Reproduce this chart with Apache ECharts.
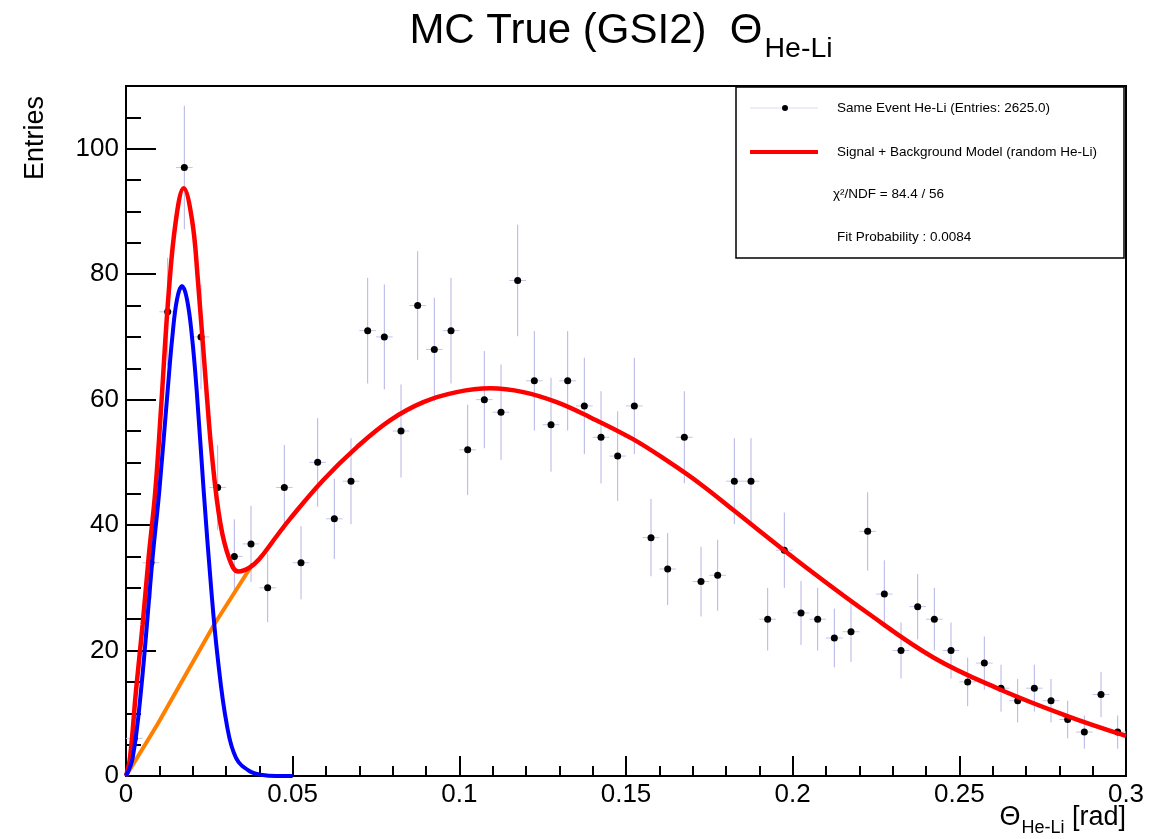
<!DOCTYPE html>
<html><head><meta charset="utf-8">
<script src="https://cdn.jsdelivr.net/npm/echarts@6/dist/echarts.min.js"></script>
<style>html,body{margin:0;padding:0;background:#fff}#c{width:1166px;height:839px}</style>
</head><body><div id="c"></div>
<script>
// ---- data ----
const binWidth = 0.005;           // histogram bin width [rad]
const counts = [
  6, 34, 74, 97, 70, 46, 35, 37, 30, 46,
  34, 50, 41, 47, 71, 70, 55, 75, 68, 71,
  52, 60, 58, 79, 63, 56, 63, 59, 54, 51,
  59, 38, 33, 54, 31, 32, 47, 47, 25, 36,
  26, 25, 22, 23, 39, 29, 20, 27, 25, 20,
  15, 18, 14, 12, 14, 12, 9, 7, 13, 7
];
// Signal + background model (red)
const redCurve = [
  [0,0],[0.0012,2.9],[0.003,13.6],[0.005,24.2],[0.0068,34.9],[0.0088,45.5],[0.0105,58.5],
  [0.0128,77],[0.015,88.7],[0.0173,93.7],[0.0198,88.7],[0.0215,79.5],[0.0242,61],
  [0.0258,51],[0.0283,40.3],[0.031,34.6],[0.0337,32.6],[0.037,33.2],[0.040,34.6],
  [0.045,38.1],[0.0492,41.0],[0.0592,47.2],[0.0692,52.4],[0.0792,56.7],[0.0892,59.6],
  [0.0992,61.2],[0.1092,61.8],[0.1192,61.2],[0.1292,59.6],[0.1392,57.2],
  [0.1521,53.7],[0.1622,50.3],[0.1722,46.6],[0.1822,42.4],[0.2022,34.0],
  [0.2222,26.1],[0.2422,18.9],[0.2622,13.8],[0.2822,9.6],[0.3,6.4]
];
// Signal component (blue)
const blueCurve = [
  [0,0],[0.002,2.9],[0.0045,13.6],[0.008,34.9],[0.01,45.5],[0.0125,61.5],[0.0139,70],
  [0.0153,76],[0.0168,78.1],[0.0183,76],[0.0198,70],[0.0212,61.5],[0.0233,45.5],
  [0.0256,29.6],[0.0275,18.9],[0.0302,8.3],[0.033,2.9],[0.037,0.8],[0.041,0.15],
  [0.045,0],[0.05,0]
];
// Background component (orange), visible part
const orangeCurve = [[0,0],[0.0095,8.3],[0.0265,24.2],[0.038,33.8]];

const legendTexts = [
  'Same Event He-Li (Entries: 2625.0)',
  'Signal + Background Model (random He-Li)',
  'χ²/NDF = 84.4 / 56',
  'Fit Probability : 0.0084'
];

const FONT = 'Liberation Sans';
const xMax = 0.3, yMax = 110;

const chart = echarts.init(document.getElementById('c'), null, {renderer: 'canvas'});

const points = counts.map((c, i) => [binWidth * (i + 0.5), c]);
const errData = counts.map((c, i) => [binWidth * (i + 0.5), c, Math.sqrt(c)]);

const axisLineStyle = {color: '#000', width: 2};

chart.setOption({
  animation: false,
  backgroundColor: '#fff',
  grid: {left: 126, right: 40, top: 86, bottom: 63, show: true,
         borderColor: '#000', borderWidth: 2, backgroundColor: 'transparent'},
  xAxis: [{
    type: 'value', min: 0, max: xMax, interval: 0.05,
    axisLine: {show: true, lineStyle: axisLineStyle},
    axisTick: {show: true, inside: true, length: 20, lineStyle: axisLineStyle},
    minorTick: {show: true, splitNumber: 5, length: 10, lineStyle: axisLineStyle},
    splitLine: {show: false},
    axisLabel: {color: '#000', fontSize: 26, fontFamily: FONT, margin: 6,
      showMinLabel: true, showMaxLabel: true,
      formatter: v => String(+v.toFixed(3))}
  }],
  yAxis: [{
    type: 'value', min: 0, max: yMax, interval: 20, position: 'left',
    axisLine: {show: true, lineStyle: axisLineStyle},
    axisTick: {show: true, inside: true, length: 30, lineStyle: axisLineStyle},
    splitLine: {show: false},
    axisLabel: {color: '#000', fontSize: 26, fontFamily: FONT, margin: 7,
      formatter: v => (v > 100 ? '' : String(v))}
  }, {
    type: 'value', min: 0, max: yMax, interval: 5, position: 'left', offset: 0,
    axisLine: {show: false},
    axisTick: {show: true, inside: true, length: 15, lineStyle: axisLineStyle},
    splitLine: {show: false},
    axisLabel: {show: false}
  }],
  series: [{
    type: 'custom', name: 'errors', xAxisIndex: 0, yAxisIndex: 0, z: 1, clip: true,
    data: errData,
    renderItem: (params, api) => {
      const x = api.value(0), y = api.value(1), e = api.value(2);
      const pL = api.coord([x - binWidth / 2, y]);
      const pR = api.coord([x + binWidth / 2, y]);
      const pT = api.coord([x, Math.min(y + e, yMax)]);
      const pB = api.coord([x, Math.max(y - e, 0)]);
      return {type: 'group', children: [
        {type: 'line', shape: {x1: pL[0], y1: pL[1], x2: pR[0], y2: pR[1]},
         style: {stroke: '#c4c4ee', lineWidth: 1}},
        {type: 'line', shape: {x1: pT[0], y1: pT[1], x2: pB[0], y2: pB[1]},
         style: {stroke: '#b4b4e6', lineWidth: 1}}
      ]};
    }
  }, {
    type: 'scatter', name: 'data', xAxisIndex: 0, yAxisIndex: 0, z: 2,
    data: points, symbol: 'circle', symbolSize: 7,
    itemStyle: {color: '#000', opacity: 1}
  }, {
    type: 'line', name: 'bkg', xAxisIndex: 0, yAxisIndex: 0, z: 3,
    data: orangeCurve, showSymbol: false, smooth: false,
    lineStyle: {color: '#ff8000', width: 4}
  }, {
    type: 'line', name: 'model', xAxisIndex: 0, yAxisIndex: 0, z: 4,
    data: redCurve, showSymbol: false, smooth: 0.4,
    lineStyle: {color: '#ff0000', width: 4.5}
  }, {
    type: 'line', name: 'signal', xAxisIndex: 0, yAxisIndex: 0, z: 5,
    data: blueCurve, showSymbol: false, smooth: 0.4,
    lineStyle: {color: '#0000ff', width: 4}
  }],
  graphic: [
    // title
    {type: 'text', x: 621, y: 10, z: 10, style: {
      text: '{a|MC True (GSI2)  Θ}{b|He-Li}', align: 'center', fill: '#000',
      rich: {
        a: {fontSize: 42, fontFamily: FONT, lineHeight: 42, verticalAlign: 'top', fill: '#000'},
        b: {fontSize: 28.5, fontFamily: FONT, lineHeight: 30, verticalAlign: 'top', padding: [25, 0, 0, 2], fill: '#000'}
      }}},
    // y axis title
    {type: 'text', x: 36, y: 96, rotation: Math.PI / 2, z: 10, style: {
      text: 'Entries', fontSize: 27, fontFamily: FONT, fill: '#000',
      align: 'right', verticalAlign: 'middle'}},
    // x axis title
    {type: 'text', x: 1126, y: 804, z: 10, style: {
      text: '{t|Θ}{s|He-Li}{t| [rad]}', align: 'right', fill: '#000',
      rich: {
        t: {fontSize: 27, fontFamily: FONT, lineHeight: 30, verticalAlign: 'top', fill: '#000'},
        s: {fontSize: 18, fontFamily: FONT, lineHeight: 20, verticalAlign: 'top', padding: [15, 0, 0, 1], fill: '#000'}
      }}},
    // legend box
    {type: 'rect', z: 20, shape: {x: 736, y: 87, width: 388, height: 171},
     style: {fill: '#fff', stroke: '#000', lineWidth: 1.5}},
    {type: 'line', z: 21, shape: {x1: 750, y1: 108, x2: 818, y2: 108},
     style: {stroke: '#dcdcf2', lineWidth: 1}},
    {type: 'circle', z: 22, shape: {cx: 785, cy: 108, r: 3}, style: {fill: '#000'}},
    {type: 'line', z: 21, shape: {x1: 750, y1: 152, x2: 818, y2: 152},
     style: {stroke: '#ff0000', lineWidth: 4}},
    {type: 'text', z: 22, x: 837, y: 108, style: {text: legendTexts[0], fontSize: 13.5,
      fontFamily: FONT, fill: '#000', verticalAlign: 'middle'}},
    {type: 'text', z: 22, x: 837, y: 152, style: {text: legendTexts[1], fontSize: 13.5,
      fontFamily: FONT, fill: '#000', verticalAlign: 'middle'}},
    {type: 'text', z: 22, x: 833, y: 194, style: {text: legendTexts[2], fontSize: 13.5,
      fontFamily: FONT, fill: '#000', verticalAlign: 'middle'}},
    {type: 'text', z: 22, x: 837, y: 237, style: {text: legendTexts[3], fontSize: 13.5,
      fontFamily: FONT, fill: '#000', verticalAlign: 'middle'}}
  ]
});
</script>
</body></html>
